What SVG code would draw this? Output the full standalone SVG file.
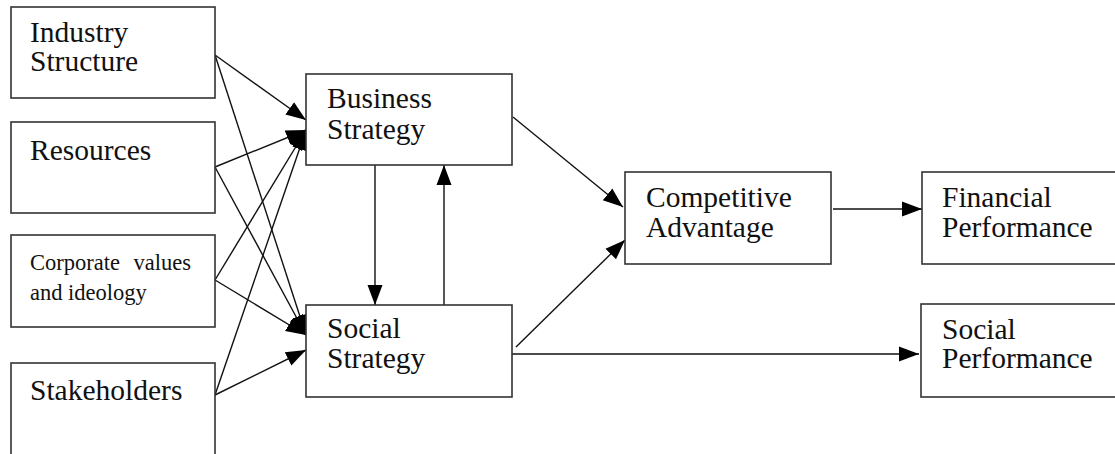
<svg xmlns="http://www.w3.org/2000/svg" width="1115" height="454" viewBox="0 0 1115 454">
<style>
.box{fill:#fff;stroke:#333;stroke-width:1.6}
.t{font-family:"Liberation Serif","Times New Roman",serif;font-size:29.5px;fill:#111}
.s{font-family:"Liberation Serif","Times New Roman",serif;font-size:22.5px;fill:#111}
.c{stroke:#111;stroke-width:1.4;fill:none;marker-end:url(#ah)}
</style>
<defs>
<marker id="ah" markerUnits="userSpaceOnUse" markerWidth="22" markerHeight="18" refX="20" refY="9" orient="auto">
<path d="M0,1.5 L20,9 L0,16.5 z" fill="#000"/>
</marker>
</defs>
<rect width="1115" height="454" fill="#fff"/>
<g id="connectors">
<line class="c" x1="215" y1="55" x2="306" y2="120"/>
<line class="c" x1="215" y1="55" x2="306" y2="335"/>
<line class="c" x1="215" y1="167" x2="306" y2="130"/>
<line class="c" x1="215" y1="167" x2="306" y2="335"/>
<line class="c" x1="215" y1="280" x2="306" y2="130"/>
<line class="c" x1="215" y1="280" x2="306" y2="335"/>
<line class="c" x1="215" y1="395" x2="306" y2="130"/>
<line class="c" x1="215" y1="395" x2="306" y2="350"/>
<line class="c" x1="375" y1="165" x2="375" y2="305"/>
<line class="c" x1="444" y1="305" x2="444" y2="165"/>
<line class="c" x1="513" y1="117" x2="623" y2="207"/>
<line class="c" x1="516" y1="347" x2="625" y2="240"/>
<line class="c" x1="833" y1="209" x2="922" y2="209"/>
<line class="c" x1="512" y1="354" x2="919" y2="354"/>
</g>
<g id="industry">
<rect class="box" x="11" y="7" width="204" height="91"/>
<text class="t" x="30" y="42">Industry</text>
<text class="t" x="30" y="71">Structure</text>
</g>
<g id="resources">
<rect class="box" x="11" y="122" width="204" height="91"/>
<text class="t" x="30" y="160">Resources</text>
</g>
<g id="corporate">
<rect class="box" x="11" y="235" width="204" height="92"/>
<text class="s" x="30" y="270" word-spacing="8">Corporate values</text>
<text class="s" x="30" y="300">and ideology</text>
</g>
<g id="stakeholders">
<rect class="box" x="11" y="363" width="204" height="110"/>
<text class="t" x="30" y="400">Stakeholders</text>
</g>
<g id="business">
<rect class="box" x="306" y="74" width="206" height="91"/>
<text class="t" x="327" y="108">Business</text>
<text class="t" x="327" y="139">Strategy</text>
</g>
<g id="social">
<rect class="box" x="306" y="305" width="206" height="92"/>
<text class="t" x="327" y="338">Social</text>
<text class="t" x="327" y="368">Strategy</text>
</g>
<g id="competitive">
<rect class="box" x="625" y="172" width="206" height="92"/>
<text class="t" x="646" y="207">Competitive</text>
<text class="t" x="646" y="237">Advantage</text>
</g>
<g id="financial">
<rect class="box" x="922" y="172" width="210" height="92"/>
<text class="t" x="942" y="207">Financial</text>
<text class="t" x="942" y="237">Performance</text>
</g>
<g id="socialperf">
<rect class="box" x="921" y="304" width="210" height="93"/>
<text class="t" x="942" y="339">Social</text>
<text class="t" x="942" y="368">Performance</text>
</g>
</svg>
